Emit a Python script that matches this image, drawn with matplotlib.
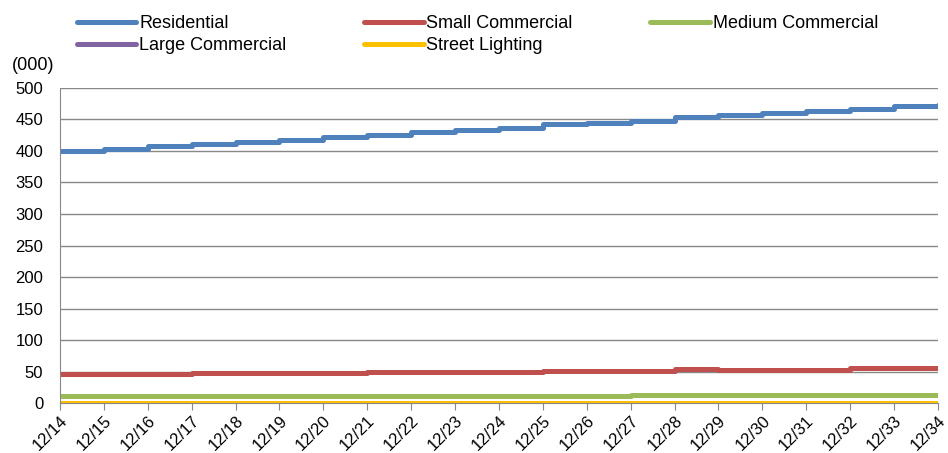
import matplotlib.pyplot as plt
import numpy as np

plt.rcParams['font.family'] = ['Liberation Sans', 'DejaVu Sans']

years = list(range(14, 35))
labels = ["12/%d" % y for y in years]

# customers (000) at the start of each year
residential = [400, 403, 408, 411.5, 414.5, 417, 421.5, 426, 429.5, 434, 437,
               442, 445, 448, 453.5, 456.5, 460, 463, 467, 472, 473]
small_comm = [45.5, 45.5, 45.5, 47.6, 47.6, 47.6, 47.6, 49.7, 49.7, 49.7, 49.7,
              51.8, 51.8, 51.8, 53.4, 52.5, 53, 53, 55, 55, 55]
medium_comm = [10.6, 10.6, 10.6, 10.6, 10.6, 10.6, 10.6, 10.6, 10.6, 10.6, 10.6,
               10.6, 10.6, 12.2, 12.2, 12.2, 12.2, 12.2, 12.2, 12.2, 12.2]
large_comm = [0.2] * 21
street_light = [0.8] * 21

series = [
    ("Residential", residential, "#4f81bd"),
    ("Small Commercial", small_comm, "#c0504d"),
    ("Medium Commercial", medium_comm, "#9bbb59"),
    ("Large Commercial", large_comm, "#8064a2"),
    ("Street Lighting", street_light, "#ffc000"),
]

fig = plt.figure(figsize=(9.48, 4.53), dpi=100)
ax = fig.add_axes([0.0633, 0.110, 0.926, 0.696])

x = np.arange(len(years))
lines = {}
for name, vals, col in series:
    lines[name], = ax.plot(x, vals, drawstyle="steps-post", c=col, lw=3.6,
                           label=name, solid_capstyle="round")

ax.set_xlim(0, len(years) - 1)
ax.set_ylim(0, 500)
ax.set_yticks(range(0, 501, 50))
ax.set_xticks(x)
ax.set_xticklabels(labels, rotation=45, ha="right", rotation_mode="anchor")
ax.tick_params(axis="x", length=5, color="#888888", labelsize=12, pad=2)
ax.tick_params(axis="y", length=0, labelsize=12, pad=12)
ax.grid(axis="y", color="#888888", lw=1)
ax.set_axisbelow(True)
for s in ["top", "right"]:
    ax.spines[s].set_visible(False)
ax.spines["left"].set_color("#888888")
ax.spines["bottom"].set_color("#888888")

fig.text(0.012, 0.845, "(000)", fontsize=13)

# legend filled column by column, so order the handles to read row by row
order = ["Residential", "Large Commercial", "Small Commercial",
         "Street Lighting", "Medium Commercial"]
fig.legend([lines[n] for n in order], order, loc="upper left",
           bbox_to_anchor=(0.081, 0.966), ncol=3, frameon=False,
           fontsize=13, handlelength=3.3, handletextpad=0.15,
           columnspacing=4.3, labelspacing=0.25, borderpad=0,
           borderaxespad=0)

plt.savefig("out.png")
